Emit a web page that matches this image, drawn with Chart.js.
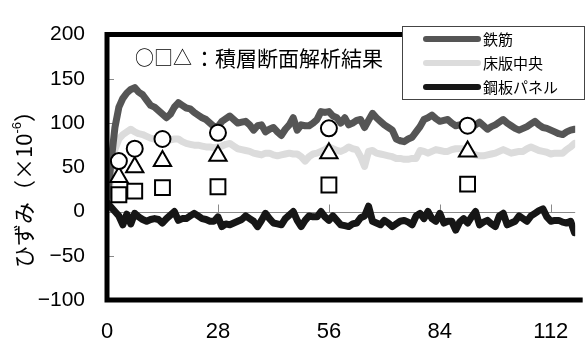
<!DOCTYPE html>
<html><head><meta charset="utf-8">
<script src="https://cdn.jsdelivr.net/npm/chart.js@4/dist/chart.umd.min.js"></script>
<style>html,body{margin:0;padding:0;background:#fff;overflow:hidden}canvas{display:block}</style>
</head><body>
<canvas id="c" width="588" height="345"></canvas>
<script>
// ---- data ----
const days = [0,1,2,3,4,5,6,7,8,9,10,11,12,13,14,15,16,17,18,19,20,21,22,23,24,25,26,27,28,29,30,31,32,33,34,35,36,37,38,39,40,41,42,43,44,45,46,47,48,49,50,51,52,53,54,55,56,57,58,59,60,61,62,63,64,65,66,67,68,69,70,71,72,73,74,75,76,77,78,79,80,81,82,83,84,85,86,87,88,89,90,91,92,93,94,95,96,97,98,99,100,101,102,103,104,105,106,107,108,109,110,111,112,113,114,115,116,117,118];
const rebar = [10,55,95,118,128,134,138,140,135,132, 126,120,118,114,110,106,110,118,123,120, 117,116,112,109,106,104,100,96,96,102, 105,108,104,100,101,102,98,92,97,98, 90,93,95,90,86,93,98,106,92,98, 97,97,100,104,113,112,113,108,106,100, 106,98,100,103,104,95,103,111,106,102, 98,95,92,82,80,79,82,84,90,96, 104,106,109,105,102,103,104,100,97,98, 98,98,95,98,101,97,93,96,98,101, 104,100,97,94,92,94,96,99,102,98, 95,94,92,90,88,87,90,92,93];
const slabCenter = [5,40,70,82,87,90,93,90,88,87, 85,83,82,80,78,79,81,82,82,79, 77,76,75,75,74,73,73,72,73,74, 76,77,74,71,70,69,68,66,65,64, 66,66,64,63,64,65,66,65,65,62, 57,62,65,66,68,70,73,71,69,68, 70,73,71,70,62,51,68,69,66,65, 64,63,62,60,60,59,59,60,60,69, 68,66,68,70,69,68,68,70,71,71, 71,69,66,64,63,63,64,65,66,68, 70,68,66,67,68,68,71,73,71,69, 68,67,65,66,66,66,70,73,77];
const steelPanel = [10,5,0,-5,-15,-3,-14,-2,-6,-9, -11,-9,-8,-9,-13,-8,-4,0,-10,-8, -8,-5,-2,-5,-8,-9,-11,-11,-6,-17, -14,-15,-13,-11,-9,-5,-8,-11,-17,-10, -2,-8,-13,-14,-15,-8,-4,0,-10,-17, -10,-5,-6,-6,0,-6,-10,-5,-10,-15, -16,-17,-14,-13,-7,-5,6,-11,-13,-15, -10,-13,-17,-14,-11,-10,-12,-15,-5,-2, -8,0,-8,-11,-2,-13,-11,-11,-21,-12, -8,-13,-6,0,-15,-12,-10,-14,-17,-5, -2,-15,-13,-11,-5,-8,-11,-5,-2,1, 3,-6,-11,-10,-10,-12,-13,-11,-24];
const analysisDays = [3,7,14,28,56,91];
const circleVals = [57,71,82,89,94,97];
const triangleVals = [39,50,57,63,66,68];
const squareVals = [19,23,27,28,30,31];
const seriesLabels = ['鉄筋','床版中央','鋼板パネル'];
const xTicks = [0,28,56,84,112];
const yTicks = [-100,-50,0,50,100,150,200];
const yTitleMain = 'ひずみ（×10';
const yTitleSup = '-6';
const yTitleEnd = '）';
const noteSymbols = '○□△';
const noteText = '：積層断面解析結果';

const colors = ['#555555','#dcdcdc','#161616'];
const jp = '"Noto Sans CJK JP", sans-serif';
const num = '"Liberation Sans", Arial, sans-serif';

function pts(xs, ys){ return xs.map((d,i)=>({x:d, y:ys[i]})); }

const decor = {
  id:'decor',
  beforeDatasetsDraw(chart){
    const {ctx, chartArea:a, scales:{x,y}} = chart;
    ctx.save();
    const y0 = Math.round(y.getPixelForValue(0)) + 0.5;
    ctx.strokeStyle = '#8a8a8a'; ctx.lineWidth = 1;
    ctx.beginPath();
    ctx.moveTo(a.left, y0); ctx.lineTo(a.right, y0);
    xTicks.forEach(v=>{ if(v===0) return; const px=Math.round(x.getPixelForValue(v))+0.5; ctx.moveTo(px,y0); ctx.lineTo(px,y0-8); });
    yTicks.forEach(v=>{ if(v===0||v===200||v===-100) return; const py=Math.round(y.getPixelForValue(v))+0.5; ctx.moveTo(a.left,py); ctx.lineTo(a.left+7,py); });
    ctx.stroke();
    ctx.restore();
  },
  afterDraw(chart){
    const {ctx, chartArea:a} = chart;
    ctx.save();
    // frame (right side is outside the picture)
    ctx.strokeStyle = '#000'; ctx.lineWidth = 5; ctx.lineCap = 'square';
    ctx.beginPath();
    ctx.moveTo(a.right+5, a.top); ctx.lineTo(a.left, a.top); ctx.lineTo(a.left, a.bottom); ctx.lineTo(a.right+5, a.bottom);
    ctx.stroke();
    // legend
    ctx.lineCap = 'butt';
    ctx.fillStyle = '#fff';
    ctx.fillRect(402, 26, 182, 73);
    ctx.strokeStyle = '#444'; ctx.lineWidth = 1;
    ctx.strokeRect(402.5, 26.5, 182, 73);
    const ly = [39, 63, 87];
    ctx.font = '15px ' + jp; ctx.textBaseline = 'middle'; ctx.textAlign = 'left';
    seriesLabels.forEach((lab,i)=>{
      ctx.strokeStyle = colors[i]; ctx.lineWidth = 6; ctx.lineCap = 'round';
      ctx.beginPath(); ctx.moveTo(426, ly[i]); ctx.lineTo(478, ly[i]); ctx.stroke();
      ctx.fillStyle = '#000'; ctx.fillText(lab, 483, ly[i]);
    });
    // note
    ctx.fillStyle = '#000';
    ctx.font = '19px ' + jp;
    ctx.fillText(noteSymbols, 135, 58);
    const ws = ctx.measureText(noteSymbols).width;
    ctx.font = '21px ' + jp;
    ctx.fillText(noteText, 135 + ws + 2, 58);
    // y title
    ctx.translate(24, 184);
    ctx.rotate(-Math.PI/2);
    ctx.font = '22px ' + jp;
    const w1 = ctx.measureText(yTitleMain).width;
    ctx.font = '13px ' + num;
    const w2 = ctx.measureText(yTitleSup).width;
    ctx.font = '22px ' + jp;
    const w3 = ctx.measureText(yTitleEnd).width;
    let sx = -(w1+w2+w3)/2;
    ctx.textBaseline = 'middle';
    ctx.fillText(yTitleMain, sx, 0);
    ctx.font = '13px ' + num;
    ctx.fillText(yTitleSup, sx+w1, -7);
    ctx.font = '22px ' + jp;
    ctx.fillText(yTitleEnd, sx+w1+w2, 0);
    ctx.restore();
  }
};

const markerBase = {type:'line', showLine:false, pointBorderColor:'#000', pointBackgroundColor:'#fff', pointBorderWidth:2, pointHoverRadius:8, order:0};
const lineBase = {pointRadius:0, tension:0, borderWidth:7, borderJoinStyle:'round', borderCapStyle:'round'};

new Chart(document.getElementById('c'), {
  type:'line',
  data:{
    datasets:[
      Object.assign({}, markerBase, {label:'○', data:pts(analysisDays, circleVals), pointStyle:'circle', pointRadius:8}),
      Object.assign({}, markerBase, {label:'△', data:pts(analysisDays, triangleVals), pointStyle:'triangle', pointRadius:10}),
      Object.assign({}, markerBase, {label:'□', data:pts(analysisDays, squareVals), pointStyle:'rect', pointRadius:10.5}),
      Object.assign({}, lineBase, {label:seriesLabels[2], data:pts(days, steelPanel), borderColor:colors[2], order:1}),
      Object.assign({}, lineBase, {label:seriesLabels[0], data:pts(days, rebar), borderColor:colors[0], order:2}),
      Object.assign({}, lineBase, {label:seriesLabels[1], data:pts(days, slabCenter), borderColor:colors[1], order:3})
    ]
  },
  options:{
    responsive:false, animation:false, devicePixelRatio:1,
    layout:{padding:{top:22, right:0, bottom:0, left:0}},
    plugins:{legend:{display:false}, tooltip:{enabled:false}},
    scales:{
      x:{type:'linear', min:0, max:118.15,
        afterBuildTicks:s=>{ s.ticks = xTicks.map(v=>({value:v})); },
        afterFit:s=>{ s.height = 45; },
        grid:{display:false, drawTicks:false}, border:{display:false},
        ticks:{font:{family:num, size:22}, color:'#000', padding:19, maxRotation:0, autoSkip:false}
      },
      y:{min:-100, max:200,
        afterBuildTicks:s=>{ s.ticks = yTicks.map(v=>({value:v})); },
        afterFit:s=>{ s.width = 107; },
        grid:{display:false, drawTicks:false}, border:{display:false},
        ticks:{font:{family:num, size:21}, color:'#000', padding:22, callback:v=>String(v).replace('-', '−')}
      }
    }
  },
  plugins:[decor]
});
</script>
</body></html>
